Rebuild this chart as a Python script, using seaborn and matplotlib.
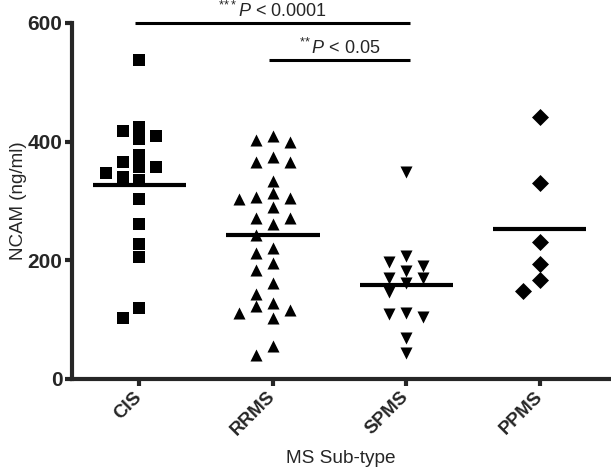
import pandas as pd
import matplotlib
matplotlib.use('Agg')
import matplotlib.pyplot as plt
import seaborn as sns
import warnings
warnings.filterwarnings('ignore')

groups = ['CIS', 'RRMS', 'SPMS', 'PPMS']
markers = ['s', '^', 'v', 'D']

# NCAM (ng/ml) per patient
cis = [537, 425, 418, 410, 404, 378, 365, 358, 358, 347, 340, 336, 304, 261, 228, 205, 119, 102]
rrms = [410, 402, 400, 374, 366, 365, 334, 313, 307, 305, 303, 289, 272, 272, 262,
        243, 221, 213, 196, 184, 162, 143, 128, 123, 116, 111, 102, 56, 41]
spms = [349, 207, 197, 191, 182, 171, 170, 161, 146, 112, 110, 104, 69, 44]
ppms = [442, 330, 230, 194, 167, 149]

yticks = [0, 200, 400, 600]
comparisons = [('CIS', 'SPMS', 600, '***', '0.0001'),
               ('RRMS', 'SPMS', 537, '**', '0.05')]

df = pd.DataFrame({
    'group': ['CIS'] * len(cis) + ['RRMS'] * len(rrms) + ['SPMS'] * len(spms) + ['PPMS'] * len(ppms),
    'ncam': cis + rrms + spms + ppms,
})


# column scatter like prism: greedy placement in fixed columns
def column_offsets(vals, step=0.127, gap=20):
    order = sorted(range(len(vals)), key=lambda i: -vals[i])
    placed = {}
    offs = [0.0] * len(vals)
    for i in order:
        k = 0
        while True:
            for c in ([0] if k == 0 else [-k, k]):
                if all(abs(vals[i] - v) >= gap for v in placed.get(c, [])):
                    placed.setdefault(c, []).append(vals[i])
                    offs[i] = c * step
                    break
            else:
                k += 1
                continue
            break
    return offs


df['xpos'] = 0.0
for i, g in enumerate(groups):
    sel = df['group'] == g
    df.loc[sel, 'xpos'] = [i + o for o in column_offsets(df.loc[sel, 'ncam'].tolist())]

sns.set_style('ticks')
plt.rcParams['font.family'] = ['Liberation Sans', 'DejaVu Sans']
plt.rcParams['mathtext.fontset'] = 'custom'
plt.rcParams['mathtext.rm'] = 'Liberation Sans'
plt.rcParams['mathtext.it'] = 'Liberation Sans:italic'

fig = plt.figure(figsize=(6.11, 4.69), dpi=100)
ax = fig.add_axes([0.118, 0.192, 0.879, 0.759])

for g, m in zip(groups, markers):
    sns.scatterplot(data=df[df['group'] == g], x='xpos', y='ncam', marker=m,
                    color='black', s=75, linewidth=0, ax=ax, zorder=4)

# mean lines
means = df.groupby('group')['ncam'].mean().reindex(groups)
for i, g in enumerate(groups):
    ax.hlines(means[g], i - 0.35, i + 0.35, color='black', lw=3, zorder=5)

# significance bars
for a, b, y, stars, p in comparisons:
    x1, x2 = groups.index(a), groups.index(b)
    ax.plot([x1 - 0.03, x2 + 0.03], [y, y], color='black', lw=2.2, clip_on=False,
            solid_capstyle='butt')
    st = r'\!'.join(stars)
    ax.annotate(r'$^{' + st + r'}\mathit{P}$ < ' + p, xy=((x1 + x2) / 2, y),
                xytext=(0, 4.5), textcoords='offset points', ha='center', va='baseline',
                fontsize=13, annotation_clip=False)

ax.set_xlim(-0.505, 3.52)
ax.set_ylim(0, 600)
ax.set_yticks(yticks)
ax.set_yticklabels([str(t) for t in yticks], fontsize=15, fontweight='bold')
ax.set_xticks(range(len(groups)))
ax.set_xticklabels(groups, fontsize=13.5, fontweight='bold', rotation=45,
                   ha='right', va='center', rotation_mode='anchor')
ax.set_ylabel('NCAM (ng/ml)', fontsize=13.5, labelpad=0.5)
ax.set_xlabel('MS Sub-type', fontsize=13.7, labelpad=8)
sns.despine(ax=ax)
for s in ['left', 'bottom']:
    ax.spines[s].set_linewidth(3)
ax.tick_params(axis='both', width=3, length=5, pad=2)
ax.tick_params(axis='x', pad=6)

fig.savefig('out.png', dpi=100)
